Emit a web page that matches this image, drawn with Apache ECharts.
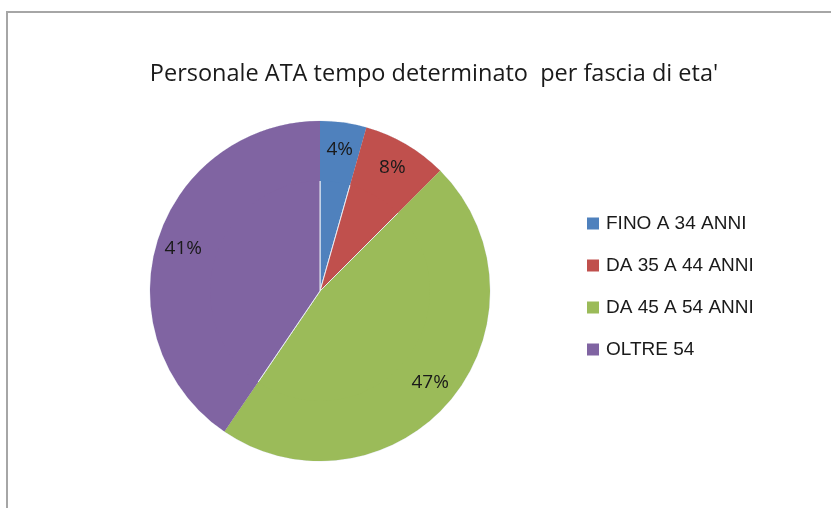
<!DOCTYPE html>
<html>
<head>
<meta charset="utf-8">
<script src="https://cdn.jsdelivr.net/npm/echarts@6/dist/echarts.min.js"></script>
<style>
  html, body { margin: 0; padding: 0; background: #fff; }
  #chart { width: 831px; height: 508px; }
</style>
</head>
<body>
<div id="chart"></div>
<script>
const categories = ['FINO A 34 ANNI', 'DA 35 A 44 ANNI', 'DA 45 A 54 ANNI', 'OLTRE 54'];
const values = [4.4, 8.1, 47.0, 40.5];
const colors = ['#4F81BD', '#C0504D', '#9BBB59', '#8064A2'];

const pieData = categories.map((name, i) => {
  return { name: name, value: values[i], itemStyle: { color: colors[i] } };
});

const myChart = echarts.init(document.getElementById('chart'));
const option = {
  backgroundColor: '#ffffff',
  animation: false,
  title: {
    text: "Personale ATA tempo determinato  per fascia di eta'",
    left: 429,
    textAlign: 'center',
    top: 57,
    textStyle: {
      fontFamily: 'Open Sans',
      fontWeight: 'normal',
      fontSize: 23.5,
      color: '#1a1a1a'
    }
  },
  legend: {
    orient: 'vertical',
    left: 582,
    top: 209,
    itemWidth: 12,
    itemHeight: 12,
    itemGap: 23,
    icon: 'rect',
    selectedMode: false,
    itemStyle: { borderWidth: 0 },
    data: categories.map((name, i) => ({ name: name, itemStyle: { color: colors[i], borderWidth: 0 } })),
    textStyle: {
      fontFamily: 'Liberation Sans',
      fontSize: 19,
      lineHeight: 18,
      color: '#1a1a1a',
      padding: [0, 0, 0, 2]
    }
  },
  graphic: [
    {
      type: 'polyline',
      shape: { points: [[7, 508], [7, 12], [831, 12]] },
      style: { stroke: '#a6a6a6', lineWidth: 2, fill: null },
      silent: true
    }
  ],
  series: [
    {
      name: 'fascia',
      type: 'pie',
      center: [320, 291],
      radius: 170,
      startAngle: 90,
      clockwise: true,
      percentPrecision: 0,
      data: pieData,
      label: { show: false },
      labelLine: { show: false },
      itemStyle: { borderColor: '#e8ecf4', borderWidth: 1 },
      silent: true
    },
    {
      // labels only, placed at ~0.82 of the radius
      name: 'etichette',
      type: 'pie',
      center: [320, 291],
      radius: [110, 170],
      startAngle: 90,
      clockwise: true,
      percentPrecision: 0,
      data: pieData,
      itemStyle: { color: 'rgba(0,0,0,0)', borderWidth: 0 },
      emphasis: { disabled: true },
      silent: true,
      label: {
        show: true,
        position: 'inside',
        formatter: '{d}%',
        fontFamily: 'Open Sans',
        fontSize: 19,
        color: '#1a1a1a'
      },
      labelLine: { show: false }
    }
  ]
};
option && myChart.setOption(option);
</script>
</body>
</html>
